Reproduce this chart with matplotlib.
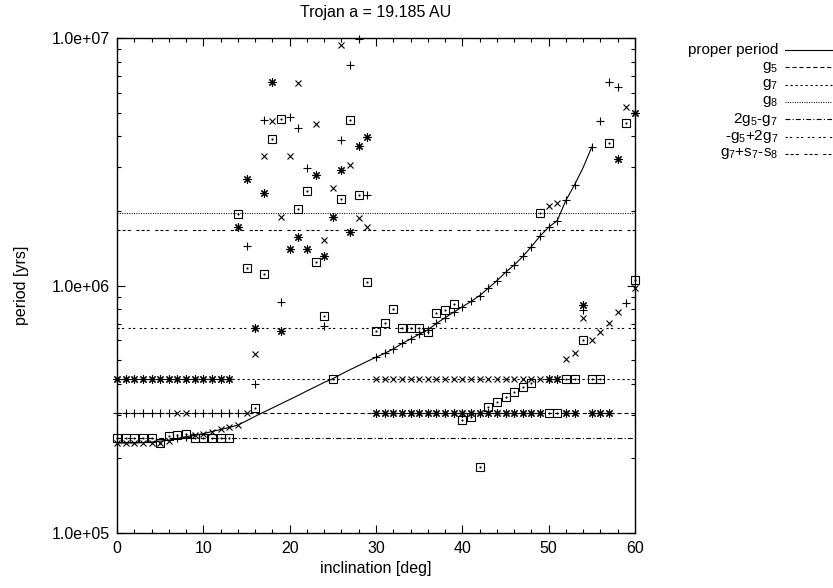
import matplotlib
matplotlib.use("Agg")
import matplotlib.pyplot as plt
from matplotlib.lines import Line2D
from matplotlib.ticker import FixedLocator, NullFormatter

plt.rcParams["font.family"] = ["Liberation Sans", "DejaVu Sans"]
plt.rcParams["mathtext.default"] = "regular"
plt.rcParams["lines.scale_dashes"] = False

title = "Trojan a = 19.185 AU"
x_label = "inclination [deg]"
y_label = "period [yrs]"

# proper period curve
prop_inc = [0, 1, 2, 3, 4, 5, 6, 7, 8, 9, 10, 11, 12, 13, 14, 15, 16, 17, 18, 19,
            20, 21, 22, 23, 24, 25, 26, 27, 28, 29, 30, 31, 32, 33, 34, 35, 36, 37,
            38, 39, 40, 41, 42, 43, 44, 45, 46, 47, 48, 49, 50, 51, 52, 53, 54, 55]
prop_period = [2.31e5, 2.31e5, 2.31e5, 2.32e5, 2.33e5, 2.35e5, 2.37e5, 2.41e5,
               2.45e5, 2.48e5, 2.52e5, 2.57e5, 2.62e5, 2.67e5, 2.73e5, 2.84e5,
               2.96e5, 3.08e5, 3.20e5, 3.33e5, 3.46e5, 3.60e5, 3.75e5, 3.90e5,
               4.06e5, 4.20e5, 4.39e5, 4.57e5, 4.75e5, 4.94e5, 5.13e5, 5.32e5,
               5.54e5, 5.83e5, 6.08e5, 6.35e5, 6.61e5, 7.03e5, 7.41e5, 7.80e5,
               8.20e5, 8.62e5, 9.10e5, 9.75e5, 1.045e6, 1.13e6, 1.21e6, 1.31e6,
               1.435e6, 1.585e6, 1.72e6, 1.83e6, 2.21e6, 2.55e6, 3.0e6, 3.63e6]

# frequencies found at each inclination, by marker
plus_inc = [0, 1, 2, 3, 4, 5, 6, 7, 8, 9, 10, 11, 12, 13, 14, 15, 16, 17, 19, 20,
            21, 22, 24, 26, 27, 28, 29, 30, 31, 32, 33, 34, 35, 36, 37, 38, 39, 40,
            41, 42, 43, 44, 45, 46, 47, 48, 49, 50, 51, 52, 53, 54, 55, 56, 57, 58, 59]
plus_period = [3.04e5, 3.04e5, 3.04e5, 3.04e5, 3.04e5, 3.04e5, 3.04e5, 2.41e5,
               2.45e5, 3.04e5, 3.04e5, 3.04e5, 3.04e5, 3.04e5, 3.04e5, 1.44e6,
               4.0e5, 4.67e6, 8.6e5, 4.78e6, 4.31e6, 2.98e6, 6.83e5, 3.87e6,
               7.78e6, 9.88e6, 2.32e6, 5.13e5, 5.32e5, 5.54e5, 5.83e5, 6.08e5,
               6.35e5, 6.61e5, 7.03e5, 7.41e5, 7.80e5, 8.20e5, 8.62e5, 9.10e5,
               9.75e5, 1.045e6, 1.13e6, 1.21e6, 1.31e6, 1.435e6, 1.585e6, 1.72e6,
               1.83e6, 2.21e6, 2.55e6, 7.96e5, 3.63e6, 4.61e6, 6.66e6, 6.36e6, 8.47e5]

cross_inc = [0, 1, 2, 3, 4, 5, 6, 7, 8, 9, 10, 11, 12, 13, 14, 15, 16, 17, 18, 19,
             20, 21, 23, 24, 25, 26, 27, 28, 29, 30, 31, 32, 33, 34, 35, 36, 37, 38,
             39, 40, 41, 42, 43, 44, 45, 46, 47, 48, 49, 50, 51, 52, 53, 54, 55, 56,
             57, 58, 59, 60]
cross_period = [2.31e5, 2.31e5, 2.31e5, 2.31e5, 2.31e5, 2.31e5, 2.36e5, 3.04e5,
                3.04e5, 2.48e5, 2.52e5, 2.57e5, 2.62e5, 2.67e5, 2.73e5, 3.04e5,
                5.27e5, 3.33e6, 4.64e6, 1.89e6, 3.35e6, 6.56e6, 4.48e6, 1.53e6,
                2.48e6, 9.37e6, 3.07e6, 1.87e6, 1.73e6, 4.2e5, 4.2e5, 4.2e5, 4.2e5,
                4.2e5, 4.2e5, 4.2e5, 4.2e5, 4.2e5, 4.2e5, 4.2e5, 4.2e5, 4.2e5,
                4.2e5, 4.2e5, 4.2e5, 4.2e5, 4.2e5, 4.2e5, 4.2e5, 2.09e6, 2.16e6,
                5.05e5, 5.35e5, 7.36e5, 6.03e5, 6.51e5, 7.07e5, 7.80e5, 5.25e6, 9.75e5]

star_inc = [0, 1, 2, 3, 4, 5, 6, 7, 8, 9, 10, 11, 12, 13, 14, 15, 16, 17, 18, 19,
            20, 21, 22, 23, 24, 25, 26, 27, 28, 29, 30, 31, 32, 33, 34, 35, 36, 37,
            38, 39, 40, 41, 42, 43, 44, 45, 46, 47, 48, 49, 50, 51, 52, 53, 54, 55,
            56, 57, 58, 60]
star_period = [4.2e5, 4.2e5, 4.2e5, 4.2e5, 4.2e5, 4.2e5, 4.2e5, 4.2e5, 4.2e5,
               4.2e5, 4.2e5, 4.2e5, 4.2e5, 4.2e5, 1.73e6, 2.69e6, 6.71e5, 2.36e6,
               6.66e6, 6.55e5, 1.41e6, 1.57e6, 1.40e6, 2.79e6, 1.32e6, 1.89e6,
               2.94e6, 1.65e6, 3.67e6, 3.97e6, 3.04e5, 3.04e5, 3.04e5, 3.04e5,
               3.04e5, 3.04e5, 3.04e5, 3.04e5, 3.04e5, 3.04e5, 3.04e5, 3.04e5,
               3.04e5, 3.04e5, 3.04e5, 3.04e5, 3.04e5, 3.04e5, 3.04e5, 3.04e5,
               4.2e5, 4.2e5, 3.04e5, 3.04e5, 8.34e5, 3.04e5, 3.04e5, 3.04e5,
               3.24e6, 5.0e6]

box_inc = [0, 1, 2, 3, 4, 5, 6, 7, 8, 9, 10, 11, 12, 13, 14, 15, 16, 17, 18, 19,
           21, 22, 23, 24, 25, 26, 27, 28, 29, 30, 31, 32, 33, 34, 35, 36, 37, 38,
           39, 40, 41, 42, 43, 44, 45, 46, 47, 48, 49, 50, 51, 52, 53, 54, 55, 56,
           57, 59, 60]
box_period = [2.43e5, 2.43e5, 2.43e5, 2.43e5, 2.43e5, 2.32e5, 2.47e5, 2.48e5,
              2.51e5, 2.42e5, 2.42e5, 2.42e5, 2.42e5, 2.42e5, 1.94e6, 1.18e6,
              3.2e5, 1.11e6, 3.9e6, 4.69e6, 2.04e6, 2.42e6, 1.24e6, 7.53e5,
              4.2e5, 2.23e6, 4.67e6, 2.32e6, 1.03e6, 6.56e5, 7.03e5, 8.03e5,
              6.76e5, 6.76e5, 6.76e5, 6.48e5, 7.73e5, 7.96e5, 8.41e5, 2.87e5,
              2.95e5, 1.85e5, 3.24e5, 3.37e5, 3.53e5, 3.70e5, 3.88e5, 4.05e5,
              1.97e6, 3.04e5, 3.04e5, 4.2e5, 4.2e5, 6.03e5, 4.2e5, 4.2e5,
              3.78e6, 4.55e6, 1.05e6]

# secular frequency combinations (horizontal lines)
res_labels = ["g$_5$", "g$_7$", "g$_8$", "2g$_5$-g$_7$", "-g$_5$+2g$_7$",
              "g$_7$+s$_7$-s$_8$"]
res_period = [3.04e5, 4.20e5, 1.96e6, 2.42e5, 6.73e5, 1.675e6]
res_dash = [(0, (3.0, 2.0)), (0, (1.6, 2.0)), (0, (0.7, 1.0)),
            (0, (3.5, 1.6, 0.8, 1.6)), (0, (1.6, 1.6, 1.6, 3.2)),
            (0, (2.2, 1.5, 2.2, 1.5, 2.2, 4.0))]

W, H = 833, 588
FS = 11.5
fig = plt.figure(figsize=(W / 100, H / 100), dpi=100)
ax = fig.add_axes([117 / W, 55 / H, 518 / W, 495 / H])

ax.set_yscale("log")
ax.set_xlim(0, 60)
ax.set_ylim(1e5, 1e7)

lw = 0.8
ax.plot(prop_inc, prop_period, color="black", lw=lw)
for p, d in zip(res_period, res_dash):
    ax.axhline(p, color="black", lw=lw, linestyle=d)

mk = dict(ls="none", color="black", mew=0.8, clip_on=False)
ax.plot(plus_inc, plus_period, marker="+", ms=6, **mk)
ax.plot(cross_inc, cross_period, marker="x", ms=5, **mk)
ax.plot(star_inc, star_period, marker=(8, 2, 0), ms=6, **mk)
ax.plot(box_inc, box_period, marker="s", ms=5.5, mfc="none", **mk)
ax.plot(box_inc, box_period, marker=".", ms=1.5, **mk)

# ticks, gnuplot style (inside, mirrored)
ax.xaxis.set_major_locator(FixedLocator([0, 10, 20, 30, 40, 50, 60]))
ax.xaxis.set_minor_locator(FixedLocator(list(range(0, 61, 2))))
ax.yaxis.set_major_locator(FixedLocator([1e5, 1e6, 1e7]))
ax.yaxis.set_minor_locator(FixedLocator([m * 10 ** e for e in (5, 6) for m in range(2, 10)]))
ax.yaxis.set_minor_formatter(NullFormatter())
ax.set_yticklabels(["1.0e+05", "1.0e+06", "1.0e+07"])
ax.tick_params(which="both", direction="in", top=True, right=True,
               labelsize=FS, width=0.8)
ax.tick_params(which="major", length=5.5)
ax.tick_params(which="minor", length=2.8)
ax.tick_params(axis="x", pad=6)
ax.tick_params(axis="y", pad=5)
for s in ax.spines.values():
    s.set_linewidth(1.0)

fig.text(376 / W, 1 - 12 / H, title, ha="center", va="center", fontsize=FS)
fig.text(376 / W, 1 - 568 / H, x_label, ha="center", va="center", fontsize=FS)
fig.text(22 / W, 1 - 285 / H, y_label, ha="center", va="center",
         rotation=90, fontsize=FS)

# key, outside to the right
key_labels = ["proper period"] + res_labels
key_dash = ["-"] + res_dash
for i, (lab, d) in enumerate(zip(key_labels, key_dash)):
    y = 1 - (50 + 17.3 * i) / H
    fig.text(778 / W, y, lab, ha="right", va="center", fontsize=11)
    fig.add_artist(Line2D([785 / W, 832 / W], [y, y], color="black", lw=lw,
                          linestyle=d))

fig.savefig("out.png", dpi=100)
